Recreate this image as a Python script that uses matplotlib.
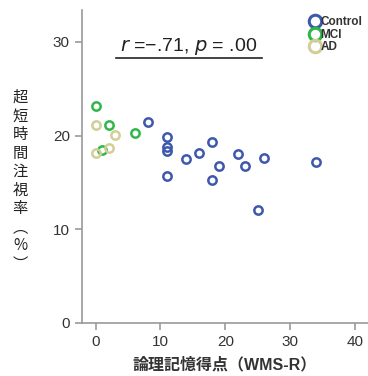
import matplotlib.pyplot as plt
from matplotlib.lines import Line2D

plt.rcParams['font.family'] = ['Liberation Sans', 'Noto Sans CJK JP', 'DejaVu Sans']
plt.rcParams['mathtext.fontset'] = 'custom'

# WMS-R logical memory score vs. ultra-short fixation rate (%)
control_x = [8, 11, 11, 11, 11, 14, 16, 18, 18, 19, 22, 23, 26, 34, 25]
control_y = [21.5, 19.9, 18.8, 18.4, 15.7, 17.5, 18.2, 19.3, 15.3, 16.8, 18.0, 16.8, 17.6, 17.2, 12.1]
mci_x = [0, 2, 6, 1]
mci_y = [23.2, 21.1, 20.3, 18.5]
ad_x = [0, 3, 2, 0]
ad_y = [21.1, 20.1, 18.7, 18.1]

groups = ["Control", "MCI", "AD"]
colors = ["#3E58AC", "#2EB848", "#D3CE97"]

fig = plt.figure(figsize=(3.68, 3.76), dpi=100)
ax = fig.add_axes([0.222, 0.141, 0.778, 0.832])

for xs, ys, c in [(control_x, control_y, colors[0]),
                  (mci_x, mci_y, colors[1]),
                  (ad_x, ad_y, colors[2])]:
    ax.plot(xs, ys, 'o', ms=6, mfc='none', mec=c, mew=1.8, zorder=3)

ax.set_xlim(-2.15, 42)
ax.set_ylim(0, 33.4)
ax.set_xticks([0, 10, 20, 30, 40])
ax.set_yticks([0, 10, 20, 30])
for side in ['top', 'right']:
    ax.spines[side].set_visible(False)
for side in ['left', 'bottom']:
    ax.spines[side].set_color('#999999')
    ax.spines[side].set_linewidth(1.2)
ax.tick_params(colors='#999999', labelcolor='#333333', labelsize=11, length=5, width=1.2)

ax.text(0.375, 0.885, r"$r$ =−.71, $p$ = .00", transform=ax.transAxes,
        ha='center', va='center', fontsize=14, color='#222222')
ax.plot([0.12, 0.63], [0.846, 0.846], transform=ax.transAxes,
        color='#222222', lw=1.2, clip_on=False)

handles = [Line2D([], [], ls='none', marker='o', ms=9, mfc='none', mec=c, mew=2.2)
           for c in colors]
leg = ax.legend(handles, groups, loc='upper right', bbox_to_anchor=(1.0, 1.0),
                frameon=False, fontsize=8.5, handlelength=0.6, handletextpad=0.15,
                labelspacing=0.05, borderaxespad=0.1)
for t in leg.get_texts():
    t.set_color('#333333')
    t.set_fontweight('bold')

ax.set_xlabel("論理記憶得点（WMS-R）", fontsize=11.5, fontweight='bold', color='#333333',
              labelpad=6)
fig.text(0.055, 0.519, "\n".join("超短時間注視率︵%︶"), ha='center', va='center',
         fontsize=11, color='#222222', linespacing=1.12,
         family=['Noto Sans CJK JP', 'DejaVu Sans'])

fig.savefig("out.png", dpi=100)
